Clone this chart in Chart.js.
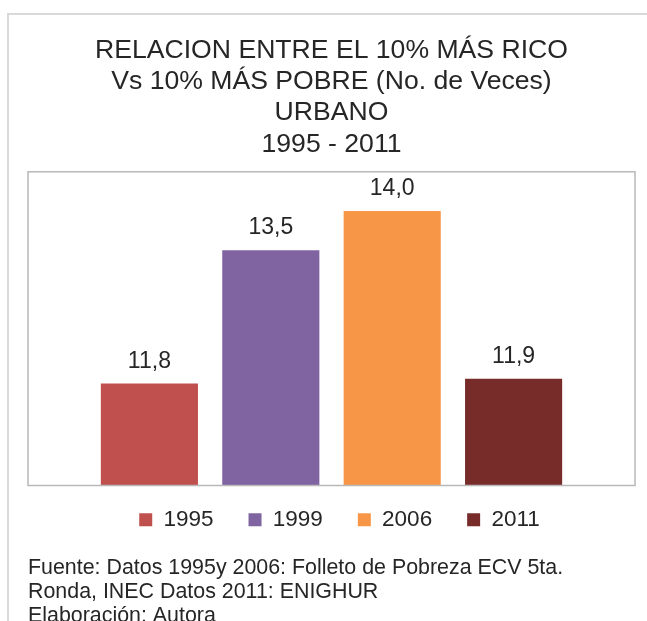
<!DOCTYPE html>
<html lang="es">

<head>
    <meta charset="UTF-8">
    <title>Relacion 10% mas rico vs 10% mas pobre - Urbano</title>
    <script src="https://cdn.jsdelivr.net/npm/chart.js"></script>
    <style>
        body {
            margin: 0;
            overflow: hidden;
            background: #fff;
        }

        .marco {
            position: absolute;
            left: 7px;
            top: 13px;
            width: 700px;
            height: 700px;
            border-left: 2px solid #d9d9d9;
            border-top: 2px solid #d9d9d9;
        }

        #grafico {
            position: absolute;
            left: 0;
            top: 0;
        }
    </style>
</head>

<body>
    <div class="marco"></div>
    <canvas id="grafico" width="647" height="628"></canvas>

    <script>
        const titulo = ['RELACION ENTRE EL 10% MÁS RICO', 'Vs 10% MÁS POBRE (No. de Veces)', 'URBANO', '1995 - 2011'];
        const fuente = ['Fuente: Datos 1995y 2006: Folleto de Pobreza ECV 5ta.', 'Ronda, INEC Datos 2011: ENIGHUR', 'Elaboración: Autora'];
        const anios = ['1995', '1999', '2006', '2011'];
        const veces = [11.8, 13.5, 14.0, 11.86];
        const colores = ['#c0504d', '#8064a2', '#f79646', '#772c2a'];

        const fuenteTexto = "'Liberation Sans', Arial, sans-serif";

        // marco gris alrededor del area del grafico
        const marcoArea = {
            id: 'marcoArea',
            afterDatasetsDraw(chart) {
                const { ctx, chartArea: a } = chart;
                ctx.save();
                ctx.strokeStyle = '#b8b8b8';
                ctx.lineWidth = 1.5;
                ctx.strokeRect(a.left, a.top, a.right - a.left, a.bottom - a.top);
                ctx.restore();
            }
        };

        // etiquetas con el valor sobre cada barra
        const etiquetas = {
            id: 'etiquetas',
            afterDatasetsDraw(chart) {
                const ctx = chart.ctx;
                ctx.save();
                ctx.font = '23px ' + fuenteTexto;
                ctx.fillStyle = '#262626';
                ctx.textAlign = 'center';
                ctx.textBaseline = 'alphabetic';
                chart.data.datasets.forEach((ds, i) => {
                    chart.getDatasetMeta(i).data.forEach((bar, j) => {
                        const txt = ds.data[j].toFixed(1).replace('.', ',');
                        ctx.fillText(txt, bar.x, bar.y - 16);
                    });
                });
                ctx.restore();
            }
        };

        // acerca la leyenda a las barras como en el original
        const ajusteLeyenda = {
            id: 'ajusteLeyenda',
            afterLayout(chart) {
                const l = chart.legend;
                l.top -= 12;
                l.bottom -= 12;
                l.left += 8;
                l.right += 8;
            }
        };

        const data = {
            labels: [''],
            datasets: anios.map((a, i) => ({
                label: a,
                data: [veces[i]],
                backgroundColor: colores[i],
                borderWidth: 0
            }))
        };

        const config = {
            type: 'bar',
            data: data,
            options: {
                responsive: false,
                animation: false,
                devicePixelRatio: 1,
                categoryPercentage: 0.8,
                barPercentage: 0.8,
                layout: {
                    padding: { left: 28, right: 12, top: 0, bottom: 0 }
                },
                scales: {
                    x: { display: false },
                    y: { display: false, min: 10.5, max: 14.5 }
                },
                plugins: {
                    title: {
                        display: true,
                        text: titulo,
                        color: '#262626',
                        font: { family: fuenteTexto, size: 26.6, weight: 'normal', lineHeight: 31.2 / 26.6 },
                        padding: { top: 35, bottom: 12 }
                    },
                    subtitle: {
                        display: true,
                        position: 'bottom',
                        align: 'start',
                        text: fuente,
                        color: '#262626',
                        font: { family: fuenteTexto, size: 21.4, weight: 'normal', lineHeight: 24 / 21.4 },
                        padding: { top: 3, bottom: 0 }
                    },
                    legend: {
                        position: 'bottom',
                        labels: {
                            color: '#262626',
                            font: { family: fuenteTexto, size: 22.5 },
                            boxWidth: 13,
                            boxHeight: 13,
                            padding: 35
                        }
                    },
                    tooltip: { enabled: false }
                }
            },
            plugins: [marcoArea, etiquetas, ajusteLeyenda]
        };

        const grafico = new Chart(document.getElementById('grafico'), config);
    </script>
</body>

</html>
